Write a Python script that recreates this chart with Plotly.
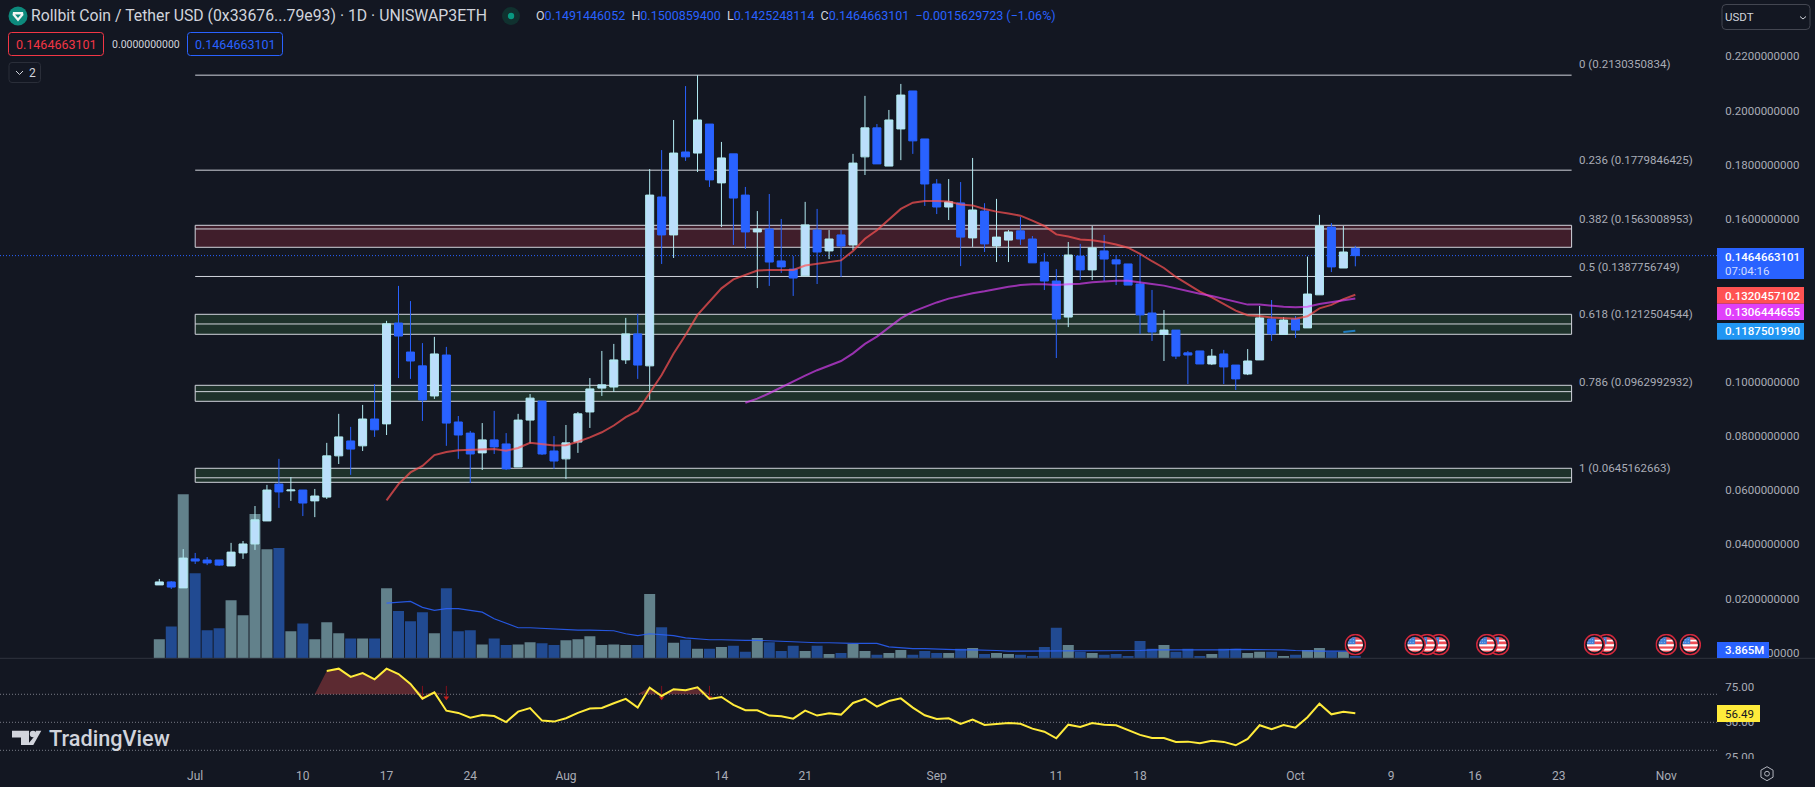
import base64
import numpy as np
import pandas as pd
import plotly.graph_objects as go

dates = pd.date_range("2023-06-28", periods=101, freq="D")

opens = [.0250,.0261,.0239,.0346,.0342,.0342,.0320,.0368,.0401,.0486,.0622,.0597,.0600,.0560,.0574,.0726,.0781,.0763,.0862,.0844,
         .1216,.1109,.1058,.0947,.1098,.0851,.0810,.0737,.0785,.0770,.0685,.0858,.0928,.0744,.0715,.0777,.0888,.0976,.0980,.1080,
         .1176,.1058,.1681,.1541,.1847,.1843,.1950,.1733,.1840,.1688,.1552,.1563,.1445,.1415,.1390,.1559,.1482,.1541,.1504,.1829,
         .1936,.1795,.1932,.2072,.1895,.1729,.1644,.1659,.1530,.1629,.1500,.1522,.1556,.1526,.1441,.1371,.1238,.1463,.1412,.1482,
         .1449,.1434,.1360,.1253,.1174,.1190,.1106,.1113,.1065,.1102,.1061,.1028,.1080,.1231,.1174,.1231,.1198,.1320,.1570,.1419,.14914]
highs = [.0272,.0264,.0382,.0368,.0353,.0342,.0405,.0412,.0541,.0619,.0715,.0648,.0600,.0604,.0774,.0881,.0833,.0914,.0991,.1224,
         .1353,.1297,.1142,.1165,.1128,.0873,.0818,.0847,.0892,.0810,.0881,.0954,.0928,.0799,.0840,.0888,.1013,.1113,.1139,.1235,
         .1250,.1784,.1854,.1965,.2090,.2130,.1950,.1884,.1840,.1718,.1629,.1692,.1600,.1463,.1663,.1637,.1559,.1559,.1840,.2054,
         .1950,.2002,.2098,.2072,.1895,.1747,.1747,.1736,.1825,.1658,.1674,.1559,.1607,.1537,.1474,.1415,.1515,.1508,.1574,.1541,
         .1467,.1434,.1467,.1338,.1264,.1190,.1113,.1113,.1120,.1117,.1061,.1120,.1279,.1301,.1238,.1242,.1461,.1615,.1585,.1574,.15009]
lows = [.0250,.0235,.0239,.0327,.0323,.0320,.0320,.0346,.0379,.0486,.0534,.0560,.0504,.0500,.0567,.0696,.0656,.0744,.0796,.0803,
        .1013,.1010,.0855,.0936,.0763,.0715,.0626,.0674,.0733,.0674,.0685,.0772,.0729,.0678,.0641,.0737,.0829,.0947,.0962,.1065,
        .1010,.0933,.1434,.1456,.1814,.1773,.1718,.1570,.1504,.1489,.1345,.1353,.1401,.1316,.1390,.1360,.1452,.1386,.1485,.1762,
        .1803,.1795,.1817,.1840,.1648,.1618,.1596,.1426,.1497,.1478,.1441,.1441,.1504,.1438,.1338,.1087,.1201,.1375,.1375,.1371,
        .1356,.1356,.1176,.1150,.1076,.1083,.0991,.1065,.1061,.0991,.0969,.1024,.1080,.1150,.1174,.1161,.1198,.1320,.1404,.1419,.14252]
closes = [.0261,.0242,.0349,.0338,.0331,.0323,.0371,.0401,.0490,.0600,.0593,.0600,.0552,.0578,.0726,.0796,.0751,.0862,.0822,.1213,
          .1168,.1076,.0932,.1102,.0847,.0803,.0733,.0785,.0759,.0678,.0858,.0939,.0733,.0707,.0774,.0881,.0973,.0988,.1080,.1176,
          .1061,.1688,.1541,.1843,.1829,.1965,.1744,.1825,.1677,.1552,.1563,.1441,.1423,.1382,.1578,.1478,.1526,.1500,.1806,.1936,
          .1803,.1965,.2057,.1888,.1729,.1644,.1663,.1533,.1633,.1508,.1533,.1552,.1526,.1438,.1371,.1231,.1467,.1412,.1493,.1452,
          .1434,.1356,.1246,.1183,.1190,.1094,.1098,.1065,.1094,.1054,.1010,.1076,.1235,.1176,.1227,.1190,.1323,.1574,.1423,.1478,.14647]
volumes_m = [32,53,274,142,47,50,97,72,241,182,184,45,58,32,60,42,33,33,33,117,
             79,62,77,42,117,45,47,23,33,22,23,27,25,22,30,32,37,22,23,22,
             22,107.5,52,26,31,16,16,19,21,11,34,27,12,21,12,21,7,9,24,12,
             6,9,14,6,12,9,9,16,17,7,9,7,6,4,19,51,22,11,9,6,
             7,4,29,16,22,11,16,4,7,16,16,9,11,11,4,6,14,17,11,11,3.865]
volume_ma_m = [92,94,95,85,80,83,83,80,77,66,59,51,51,50,49,47,47,47,47,46,41,38,41,40,38,34,32,31,31,30,30,30,29,28,27,26,26,26,25,25,25,25,
               19,17,16,16,15,15,14,14,14,13,12,12,12,12,13,13,13,13,13,13,13,13,14,14,14,14,13,13,14,15,15,15,15,14,13,12,12,12,12,12]
red_ma = [.0562,.0622,.0665,.0689,.0729,.0740,.0747,.0748,.0749,.0751,.0745,.0755,.0774,.0770,.0764,.0765,.0778,.0794,.0813,.0838,.0869,.0892,
          .0957,.1024,.1104,.1172,.1246,.1295,.1344,.1377,.1393,.1410,.1412,.1413,.1412,.1428,.1434,.1442,.1447,.1482,.1527,.1558,.1596,.1637,.1660,
          .1666,.1666,.1664,.1653,.1650,.1637,.1627,.1620,.1612,.1594,.1574,.1543,.1535,.1524,.1521,.1515,.1506,.1494,.1471,.1444,.1419,.1386,.1358,
          .1332,.1311,.1288,.1262,.1245,.1242,.1236,.1235,.1232,.1241,.1270,.1283,.1304,.13205]
purple_ma = [.0922,.0937,.0957,.0979,.1002,.1022,.1042,.1059,.1076,.1104,.1139,.1166,.1199,.1233,.1258,.1275,.1292,.1306,.1316,.1326,.1333,.1342,
             .1350,.1356,.1359,.1359,.1356,.1359,.1361,.1366,.1370,.1372,.1372,.1367,.1360,.1354,.1344,.1333,.1324,.1316,.1306,.1294,.1284,.1284,.1279,
             .1276,.1274,.1276,.1286,.1292,.1299,.13064]
blue_ma = [.1183,.11875]
rsi = [86.7,88.3,82.4,85.2,80.7,88.3,84.5,77.4,66.9,71.4,58.3,56.7,53.3,55.2,54.5,50.2,57.6,60.2,51.2,50.5,52.9,56.7,59.8,60.2,
       63.6,66.7,60.5,74.8,68.8,73.6,72.9,75,66.7,68.1,62.4,58.6,58.6,54.8,54.3,52.6,58.3,54.8,56.4,55.5,63.8,66.7,61.2,65.2,67.1,60.5,55,52.4,52.9,
       48.8,51.9,48.1,48.8,49.5,49,45.5,43.3,38.6,48.3,46.7,49.5,48.3,47.9,44.5,41,38.8,38.8,36,36.2,35,36.9,36,33.6,38.1,47.9,45,48.1,46.2,53.6,63.3,55.7,57.6,56.49]
rsi_signal_idx = [22, 24, 42, 46]

fib_ratio = ["0", "0.236", "0.382", "0.5", "0.618", "0.786", "1"]
fib_price = [0.2130350834, 0.1779846425, 0.1563008953, 0.1387756749, 0.1212504544, 0.0962992932, 0.0645162663]
zones = [(0.14954, 0.15765, "#401e2b"), (0.11745, 0.12482, "#1e322b"), (0.09273, 0.09863, "#1e322b"), (0.06285, 0.06802, "#1e322b")]
price_ticks = [0.22, 0.20, 0.18, 0.16, 0.10, 0.08, 0.06, 0.04, 0.02, 0.0]
x_tick_dates = ["2023-07-01","2023-07-10","2023-07-17","2023-07-24","2023-08-01","2023-08-14","2023-08-21","2023-09-01","2023-09-11","2023-09-18","2023-10-01","2023-10-09","2023-10-16","2023-10-23","2023-11-01"]
x_tick_text = ["Jul","10","17","24","Aug","14","21","Sep","11","18","Oct","9","16","23","Nov"]
event_dates = ["2023-11-03","2023-11-01","2023-10-27","2023-10-26","2023-10-18","2023-10-17","2023-10-13","2023-10-12","2023-10-11","2023-10-06"]

BG = "#131722"
UP_BODY, UP_WICK, DOWN = "#bbdefb", "#b2ebf2", "#2962ff"
VOL_UP, VOL_DOWN = "#62818b", "#214a91"
TXT = "#d1d4dc"
AXT = "#a9acb6"
W, H, PLOT_W, PLOT_H = 1815, 787, 1717, 759
FONT = "Roboto"


def fx(px):
    return px / PLOT_W


def fy(py):
    return 1 - py / PLOT_H


up = np.array(closes) >= np.array(opens)
fig = go.Figure()
fig.add_bar(x=dates, y=volumes_m, marker_color=[VOL_UP if u else VOL_DOWN for u in up], marker_line_width=0,
            xaxis="x", yaxis="y")
fig.add_scatter(x=dates[19:], y=volume_ma_m, mode="lines", line=dict(color="rgba(41,98,255,.85)", width=1.2), xaxis="x", yaxis="y")
fig.add_candlestick(x=dates, open=opens, high=highs, low=lows, close=closes, xaxis="x", yaxis="y2", whiskerwidth=0,
                    increasing=dict(line=dict(color=UP_WICK, width=1), fillcolor=UP_BODY),
                    decreasing=dict(line=dict(color=DOWN, width=1), fillcolor=DOWN))
fig.add_scatter(x=dates[19:], y=red_ma, mode="lines", line=dict(color="rgba(255,82,82,.7)", width=2), xaxis="x", yaxis="y2")
fig.add_scatter(x=dates[49:], y=purple_ma, mode="lines", line=dict(color="rgba(224,64,251,.65)", width=2), xaxis="x", yaxis="y2")
fig.add_scatter(x=dates[99:], y=blue_ma, mode="lines", line=dict(color="rgba(33,150,243,.75)", width=2), xaxis="x", yaxis="y2")

rsi_x = dates[14:]
fill_top = np.concatenate(([70.0], np.maximum(np.array(rsi), 70.0)))
fill_x = dates[13:]
fig.add_scatter(x=fill_x, y=[70.0] * len(fill_x), mode="lines", line=dict(width=0, color="rgba(0,0,0,0)"), xaxis="x", yaxis="y3")
fig.add_scatter(x=fill_x, y=fill_top, mode="lines", line=dict(width=0, color="rgba(0,0,0,0)"), fill="tonexty",
                fillcolor="rgba(242,82,82,.33)", xaxis="x", yaxis="y3")
sx, sy = [], []
for i in rsi_signal_idx:
    sx += [dates[i], dates[i], None]
    sy += [76, 67.6, None]
fig.add_scatter(x=sx, y=sy, mode="lines", line=dict(color="#80101c", width=1), xaxis="x", yaxis="y3")
fig.add_scatter(x=[dates[i] for i in rsi_signal_idx], y=[67.6] * len(rsi_signal_idx), mode="markers",
                marker=dict(symbol="triangle-down", size=5, color="#c0201c"), xaxis="x", yaxis="y3")
fig.add_scatter(x=rsi_x, y=rsi, mode="lines", line=dict(color="#ffeb3b", width=2), xaxis="x", yaxis="y3")

shapes = []
fib_x0, fib_x1 = "2023-07-01", "2023-10-24 02:00"
for lo, hi, col in zones:
    shapes.append(dict(type="rect", xref="x", yref="y2", x0=fib_x0, x1=fib_x1, y0=lo, y1=hi, fillcolor=col,
                       line=dict(color=TXT, width=1), layer="below"))
for p in fib_price:
    shapes.append(dict(type="line", xref="x", yref="y2", x0=fib_x0, x1=fib_x1, y0=p, y1=p, line=dict(color=TXT, width=1), layer="below"))
shapes.append(dict(type="line", xref="paper", yref="y2", x0=0, x1=1, y0=closes[-1], y1=closes[-1],
                   line=dict(color=DOWN, width=1, dash="1px,2px"), layer="below"))
for lvl in (70, 50, 30):
    shapes.append(dict(type="line", xref="paper", yref="y3", x0=0, x1=1, y0=lvl, y1=lvl,
                       line=dict(color="#787b86", width=1, dash="1px,2px"), layer="below"))


def box(x0, y0, x1, y1, fill="rgba(0,0,0,0)", line=None, width=1):
    shapes.append(dict(type="rect", xref="paper", yref="paper", x0=fx(x0), x1=fx(x1), y0=fy(y1), y1=fy(y0), fillcolor=fill,
                       line=dict(color=line or "rgba(0,0,0,0)", width=width if line else 0), layer="above"))


def rbox(x0, y0, x1, y1, r, line, fill="rgba(0,0,0,0)"):
    xa, xb, ya, yb, rx, ry = fx(x0), fx(x1), fy(y0), fy(y1), r / PLOT_W, r / PLOT_H
    path = (f"M{xa+rx},{ya} L{xb-rx},{ya} Q{xb},{ya} {xb},{ya-ry} L{xb},{yb+ry} Q{xb},{yb} {xb-rx},{yb} "
            f"L{xa+rx},{yb} Q{xa},{yb} {xa},{yb+ry} L{xa},{ya-ry} Q{xa},{ya} {xa+rx},{ya} Z")
    shapes.append(dict(type="path", xref="paper", yref="paper", path=path, fillcolor=fill, line=dict(color=line, width=1), layer="above"))


def poly(points, fill=None, line=None, width=1, close=True):
    s = " ".join(("M" if i == 0 else "L") + f"{fx(a)},{fy(b)}" for i, (a, b) in enumerate(points)) + (" Z" if close else "")
    shapes.append(dict(type="path", xref="paper", yref="paper", path=s, fillcolor=fill or "rgba(0,0,0,0)",
                       line=dict(color=line or "rgba(0,0,0,0)", width=width if line else 0), layer="above"))


def circle(cx, cy, r, fill=None, line=None, width=1):
    shapes.append(dict(type="circle", xref="paper", yref="paper", x0=fx(cx - r), x1=fx(cx + r), y0=fy(cy + r), y1=fy(cy - r),
                       fillcolor=fill or "rgba(0,0,0,0)", line=dict(color=line or "rgba(0,0,0,0)", width=width if line else 0), layer="above"))


# header glyphs
circle(18, 16, 9.5, fill="#0d8a7d")
poly([(13, 12), (23, 12), (23.5, 15), (18, 21.5), (12.5, 15)], fill="#f2f5f4")
poly([(15, 14.5), (21, 14.5), (18, 18)], fill="#0d8a7d")
circle(511, 16, 9, fill="#10312f")
circle(511, 16, 3.2, fill="#089981")
rbox(8.5, 32.5, 103.5, 55.5, 3, "#f23645")
rbox(187.5, 32.5, 282.5, 55.5, 3, "#2962ff")
rbox(9, 62.5, 40.5, 82.5, 3, "#2a2e39")
poly([(16, 71), (19.5, 74.5), (23, 71)], line=TXT, width=1, close=False)
rbox(1722, 4.5, 1810, 29.5, 4, "#434651")
poly([(1800, 16.5), (1803, 19), (1806, 16.5)], line=TXT, width=1, close=False)

# separator
shapes.append(dict(type="line", xref="paper", yref="paper", x0=0, x1=W / PLOT_W, y0=fy(658.3), y1=fy(658.3),
                   line=dict(color="#30343f", width=1), layer="above"))

# clip the clipped 25.00 label under the time axis
box(1717, 759, 1815, 766, fill=BG)

# axis value labels
box(1717, 248, 1804, 279, fill="#2962ff")
box(1717, 287, 1804, 303.7, fill="#ff5252")
box(1717, 303.7, 1804, 320, fill="#e040fb")
box(1717, 323, 1804, 339.7, fill="#2196f3")
box(1717, 642, 1769, 658, fill="#2962ff")
box(1717, 705, 1760, 722, fill="#ffeb3b")

# TradingView logo
poly([(12, 730.7), (29, 730.7), (29, 745), (21, 745), (21, 737.5), (12, 737.5)], fill=TXT)
circle(33, 734, 3.2, fill=TXT)
poly([(27.3, 745), (35, 735.5), (36, 730.7), (41.3, 730.7), (33.3, 745)], fill=TXT)

# settings icon
a = [(1767 + 7 * np.cos(t), 773.7 + 7 * np.sin(t)) for t in np.pi / 6 + np.arange(6) * np.pi / 3]
poly(a, line="#b2b5be", width=1)
circle(1767, 773.7, 2.4, line="#b2b5be")

ann = []


def label(px, py, text, size=12, color=TXT, anchor="left", **kw):
    ann.append(dict(xref="paper", yref="paper", x=fx(px), y=fy(py), text=text, showarrow=False, xanchor=anchor, yanchor="middle",
                    font=dict(family=FONT, size=size, color=color, **kw), borderpad=0, borderwidth=0))


label(31, 16, "Rollbit Coin / Tether USD (0x33676...79e93) · 1D · UNISWAP3ETH", size=15.8)
v = lambda s: f"<span style='color:#2962ff'>{s}</span>"
label(536, 16, "O" + v("0.1491446052") + "  H" + v("0.1500859400") + "  L" + v("0.1425248114") + "  C" + v("0.1464663101") + "  " +
      v("−0.0015629723 (−1.06%)"), size=12.5)
label(56, 44.5, "0.1464663101", size=12.5, color="#f23645", anchor="center")
label(145.5, 44.5, "0.0000000000", size=10.5, color=TXT, anchor="center")
label(235, 44.5, "0.1464663101", size=12.5, color="#2962ff", anchor="center")
label(32, 72.5, "2", size=12, anchor="center")
label(1725, 17, "USDT", size=11.5)

for ratio, price, py in zip(fib_ratio, fib_price, [64.3, 159.7, 218.7, 266.7, 313.7, 381.7, 467.6]):
    label(1578.7, py, f"{ratio} ({price:.10f})", size=11.5, color=AXT)

label(1725, 256.5, "0.1464663101", size=11.5, color="#ffffff", weight=500)
label(1725, 270.5, "07:04:16", size=11.5, color="#d1dcff")
label(1725, 295.5, "0.1320457102", size=11.5, color="#ffffff", weight=500)
label(1725, 312, "0.1306444655", size=11.5, color="#ffffff", weight=500)
label(1725, 331.5, "0.1187501990", size=11.5, color="#ffffff", weight=500)
label(1725, 650.3, "3.865M", size=11.5, color="#ffffff", weight=500)
label(1725, 713.5, "56.49", size=11.5, color=BG)
label(49.3, 738, "TradingView", size=21.7, color=TXT, weight=500)

# economic event flags
flag_svg = ("<svg xmlns='http://www.w3.org/2000/svg' viewBox='0 0 44 44'><defs><clipPath id='c'><circle cx='22' cy='22' r='15.5'/></clipPath></defs>"
            "<circle cx='22' cy='22' r='20.5' fill='#131722' stroke='#d3283c' stroke-width='3'/>"
            "<g clip-path='url(#c)'><rect x='0' y='0' width='44' height='44' fill='#ef4d56'/>"
            "<rect x='0' y='21' width='44' height='4.5' fill='#fff'/><rect x='0' y='30' width='44' height='4' fill='#fff'/>"
            "<rect x='22' y='12' width='22' height='3.5' fill='#fff'/>"
            "<rect x='0' y='0' width='22' height='21' fill='#3f80d8'/></g>"
            "<g fill='#cfe0f7'><circle cx='13' cy='12' r='1'/><circle cx='18' cy='12' r='1'/><circle cx='13' cy='17' r='1'/><circle cx='18' cy='17' r='1'/><circle cx='9' cy='17' r='1'/></g></svg>")
flag_src = "data:image/svg+xml;base64," + base64.b64encode(flag_svg.encode()).decode()
DAY_MS = 86400000
PX_PER_DAY = 11.96
images = [dict(source=flag_src, xref="x", yref="paper", x=d, y=fy(644.7), sizex=21.7 * DAY_MS / PX_PER_DAY, sizey=21.7 / PLOT_H,
               xanchor="center", yanchor="middle", layer="above", sizing="stretch") for d in event_dates]

split = (PLOT_H - 658.3) / PLOT_H
fig.update_layout(
    width=W, height=H, autosize=False, margin=dict(l=0, r=W - PLOT_W, t=0, b=H - PLOT_H, pad=0),
    paper_bgcolor=BG, plot_bgcolor=BG, showlegend=False, bargap=0.08, boxmode="overlay", boxgap=0.33, boxgroupgap=0, hovermode=False,
    font=dict(family=FONT, color=AXT, size=11.5),
    shapes=shapes, annotations=ann, images=images,
    xaxis=dict(type="date", range=["2023-06-14 16:19", "2023-11-05 05:46"], anchor="y3", showgrid=False, zeroline=False, showline=False,
               tickmode="array", tickvals=x_tick_dates, ticktext=x_tick_text, ticks="outside", ticklen=6, tickcolor="rgba(0,0,0,0)",
               tickfont=dict(family=FONT, size=12, color=AXT), rangeslider=dict(visible=False), tickangle=0),
    yaxis=dict(domain=[split, 1], range=[0, 1099], visible=False, fixedrange=True, anchor="x"),
    yaxis2=dict(overlaying="y", side="right", range=[-0.00207, 0.24076], showgrid=False, zeroline=False, showline=False, anchor="x",
                tickmode="array", tickvals=price_ticks, ticktext=[f"{t:.10f}" for t in price_ticks], ticks="outside", ticklen=5,
                tickcolor="rgba(0,0,0,0)", tickfont=dict(family=FONT, size=11.5, color=AXT)),
    yaxis3=dict(domain=[0, split], side="right", range=[23.8, 95.7], showgrid=False, zeroline=False, showline=False, anchor="x",
                tickmode="array", tickvals=[75, 50, 25], ticktext=["75.00", "50.00", "25.00"], ticks="outside", ticklen=5,
                tickcolor="rgba(0,0,0,0)", tickfont=dict(family=FONT, size=11.5, color=AXT)),
)

fig.write_html("out.html", post_script="document.body.style.margin='0';document.body.style.overflow='hidden';",
               config={"displayModeBar": False})
